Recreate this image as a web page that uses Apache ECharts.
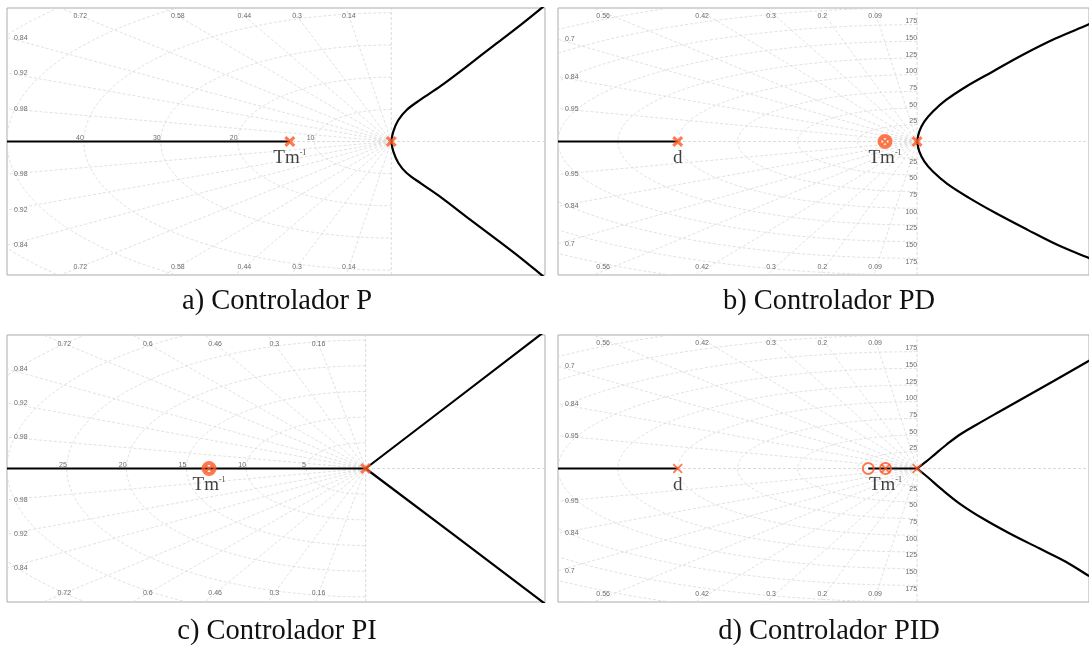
<!DOCTYPE html>
<html>
<head>
<meta charset="utf-8">
<title>Lugar de las raices</title>
<script src="https://cdn.jsdelivr.net/npm/echarts@6.0.0/dist/echarts.min.js"></script>
<style>
  html, body { margin: 0; padding: 0; background: #fff; }
  #main { width: 1089px; height: 648px; }
</style>
</head>
<body>
<div id="main"></div>
<script>
// s-plane grid ticks (damping ratio lines, natural frequency circles)
const zetaA = [0.14, 0.3, 0.44, 0.58, 0.72, 0.84, 0.92, 0.98]
const zetaB = [0.09, 0.2, 0.3, 0.42, 0.56, 0.7, 0.84, 0.95]
const zetaC = [0.16, 0.3, 0.46, 0.6, 0.72, 0.84, 0.92, 0.98]
const zetaD = [0.09, 0.2, 0.3, 0.42, 0.56, 0.7, 0.84, 0.95]
const wnA = [10, 20, 30, 40, 50, 60]
const wnB = [25, 50, 75, 100, 125, 150, 175, 200, 225, 250]
const wnC = [5, 10, 15, 20, 25, 30, 35, 40]
const wnD = [25, 50, 75, 100, 125, 150, 175, 200, 225, 250]
const wnRealLabelsA = ['10', '20', '30', '40']
const wnRealLabelsC = ['5', '10', '15', '20', '25']
const wnImagLabelsB = ['25', '50', '75', '100', '125', '150', '175']
const wnImagLabelsD = ['25', '50', '75', '100', '125', '150', '175']

// root locus branches, [real, imag]
const realA = [[-50, 0], [-13.2, 0]]
const upperA = [[0, 0], [0.25, 3.0], [0.9, 6.6], [2.0, 9.8], [3.8, 13.0], [6.4, 17.2], [9.8, 23.3], [13.7, 30.5], [16.8, 36.2], [19.3, 41.0], [20.3, 43]]
const lowerA = [[0, 0], [0.25, -3.0], [0.9, -6.6], [2.0, -9.8], [3.9, -13.1], [6.6, -17.6], [10.0, -23.8], [13.9, -30.8], [16.9, -36.3], [19.3, -41.0], [20.3, -43]]

const realB = [[-150, 0], [-100, 0]]
const upperB = [[0, 0], [0.9, 14.7], [3.0, 29.7], [6.5, 44.6], [12.1, 62.2], [20.4, 82.1], [31.5, 104.6], [44.0, 129.6], [58.0, 154.6], [71.1, 174.5], [72.5, 177]]
const lowerB = [[0, 0], [0.9, -14.7], [3.0, -29.7], [6.6, -45.0], [12.6, -63.5], [21.5, -84.0], [33.0, -107.5], [46.0, -132.0], [59.0, -155.5], [71.1, -173.5], [72.5, -176]]

const realC = [[-30, 0], [0, 0]]
const upperC = [[0, 0], [7.3, 13.0], [15.2, 27.1]]
const lowerC = [[0, 0], [7.3, -12.8], [15.2, -26.7]]

const realD1 = [[-150, 0], [-100, 0]]
const realD2 = [[-20.4, 0], [0, 0]]
const upperD = [[0, 0], [3.75, 10.2], [7.9, 22.8], [12.1, 35.2], [17.6, 50.2], [24.6, 65.2], [34.3, 85.1], [45.4, 107.6], [56.5, 130], [71.1, 160], [72.5, 163]]
const lowerD = [[0, 0], [4.6, -13.5], [10.2, -31.0], [17.6, -52.1], [27.3, -74.6], [38.5, -97], [51, -119.6], [62.1, -139.6], [71.1, -159.5], [72.5, -162]]

// poles (x), zeros (o) and cancelled pole-zero pairs
const polesA = [[-13.2, 0], [0, 0]]
const polesB = [[-100, 0], [0, 0]]
const pairsB = [[-13.4, 0]]
const polesC = [[0, 0]]
const pairsC = [[-13.1, 0]]
const polesD = [[-100, 0], [0, 0]]
const zerosD = [[-20.4, 0]]
const pairsD = [[-13.2, 0]]

// names written under the roots
const tagsA = [[-13.2, 'tm']]
const tagsB = [[-100, 'd'], [-13.4, 'tm']]
const tagsC = [[-13.1, 'tm']]
const tagsD = [[-100, 'd'], [-13.2, 'tm']]

const captions = ['a) Controlador P', 'b) Controlador PD', 'c) Controlador PI', 'd) Controlador PID']

const ORANGE = '#ff5722'
const CROSS_BOLD = 'path://M0,2L2,0L5,3L8,0L10,2L7,5L10,8L8,10L5,7L2,10L0,8L3,5Z'
const CROSS_THIN = 'path://M0,1.3L1.3,0L5,3.7L8.7,0L10,1.3L6.3,5L10,8.7L8.7,10L5,6.3L1.3,10L0,8.7L3.7,5Z'
const gridStyle = { color: '#d9d9d9', width: 0.8, type: [3, 2] }
const axisStyle = { color: '#d2d2d2', width: 0.8, type: [3, 2] }

// zetaY: where the damping label sits on its line, textY: where its text is drawn
const panels = [
    { grid: { left: 7, top: 8, width: 538, height: 267 }, x: [-50, 20], y: [-41.5, 41.5],
      zeta: zetaA, wn: wnA, zetaY: 39, textY: 39, wnReal: wnRealLabelsA, wnImag: [],
      lines: [realA], curves: [upperA, lowerA], poles: polesA, bold: true, zeros: [], pairs: [], tags: tagsA },
    { grid: { left: 558, top: 8, width: 532, height: 267 }, x: [-150, 71.8], y: [-200, 200],
      zeta: zetaB, wn: wnB, zetaY: 194, textY: 188.5, wnReal: [], wnImag: wnImagLabelsB,
      lines: [realB], curves: [upperB, lowerB], poles: polesB, bold: true, zeros: [], pairs: pairsB, tags: tagsB },
    { grid: { left: 7, top: 335, width: 538, height: 267 }, x: [-30, 15], y: [-26, 26],
      zeta: zetaC, wn: wnC, zetaY: 24.3, textY: 24.3, wnReal: wnRealLabelsC, wnImag: [],
      lines: [realC, upperC, lowerC], curves: [], poles: polesC, bold: true, zeros: [], pairs: pairsC, tags: tagsC },
    { grid: { left: 558, top: 335, width: 532, height: 267 }, x: [-150, 71.8], y: [-200, 200],
      zeta: zetaD, wn: wnD, zetaY: 194, textY: 188.5, wnReal: [], wnImag: wnImagLabelsD,
      lines: [realD1, realD2], curves: [upperD, lowerD], poles: polesD, bold: false, zeros: zerosD, pairs: pairsD, tags: tagsD }
]

function line(idx, data, style, z, smooth) {
    return {
        type: 'line', xAxisIndex: idx, yAxisIndex: idx, data: data, smooth: smooth || false,
        symbol: 'none', silent: true, clip: true, lineStyle: style, z: z
    }
}

function sgrid(idx, p) {
    const out = []
    p.zeta.forEach(z => {
        const s = Math.sqrt(1 - z * z)
        out.push(line(idx, [[0, 0], [-1000 * z, 1000 * s]], gridStyle, 1))
        out.push(line(idx, [[0, 0], [-1000 * z, -1000 * s]], gridStyle, 1))
    })
    p.wn.forEach(w => {
        const pts = []
        for (let k = 0; k <= 120; k++) {
            const a = Math.PI / 2 + Math.PI * k / 120
            pts.push([w * Math.cos(a), w * Math.sin(a)])
        }
        out.push(line(idx, pts, gridStyle, 1))
    })
    out.push(line(idx, [[p.x[0], 0], [p.x[1], 0]], axisStyle, 1))
    out.push(line(idx, [[0, p.y[0]], [0, p.y[1]]], axisStyle, 1))
    return out
}

function sgridLabels(idx, p) {
    const items = []
    p.zeta.forEach(z => {
        const t = Math.sqrt(1 - z * z) / z
        const xTop = -p.zetaY / t
        const txt = String(z)
        if (xTop > p.x[0]) {
            items.push({ value: [xTop, p.textY], label: { formatter: txt, position: 'inside' } })
            items.push({ value: [xTop, -p.textY], label: { formatter: txt, position: 'inside' } })
        } else {
            const yl = -p.x[0] * t
            items.push({ value: [p.x[0], yl], label: { formatter: txt, position: 'right', distance: 7 } })
            items.push({ value: [p.x[0], -yl], label: { formatter: txt, position: 'right', distance: 7 } })
        }
    })
    p.wnReal.forEach(w => {
        items.push({ value: [-Number(w), 0], label: { formatter: w, position: 'insideBottomRight' } })
    })
    p.wnImag.forEach(w => {
        items.push({ value: [0, Number(w)], label: { formatter: w, position: 'insideBottomRight' } })
        items.push({ value: [0, -Number(w)], label: { formatter: w, position: 'insideTopRight' } })
    })
    return {
        type: 'scatter', xAxisIndex: idx, yAxisIndex: idx, symbolSize: 0.01, silent: true, z: 2,
        itemStyle: { color: 'rgba(0,0,0,0)' },
        label: { show: true, distance: 0, color: '#444', fontSize: 7, fontFamily: 'Liberation Sans' },
        labelLayout: { hideOverlap: false },
        data: items
    }
}

function ringSeries(idx, data, ring) {
    return {
        type: 'scatter', xAxisIndex: idx, yAxisIndex: idx, data: data, silent: true, z: 4,
        symbol: 'circle', symbolSize: ring.size,
        itemStyle: { color: 'rgba(0,0,0,0)', borderColor: ORANGE, borderWidth: ring.width }
    }
}

function roots(idx, p) {
    const out = []
    const cross = p.bold ? CROSS_BOLD : CROSS_THIN
    const ring = p.bold ? { size: 11, width: 4 } : { size: 11, width: 2 }
    if (p.pairs.length) {
        out.push(ringSeries(idx, p.pairs, ring))
        out.push({
            type: 'scatter', xAxisIndex: idx, yAxisIndex: idx, data: p.pairs, silent: true, z: 4,
            symbol: cross, symbolSize: p.bold ? 8 : 10, itemStyle: { color: ORANGE }
        })
    }
    if (p.zeros.length) out.push(ringSeries(idx, p.zeros, ring))
    out.push({
        type: 'scatter', xAxisIndex: idx, yAxisIndex: idx, data: p.poles, silent: true, z: 4,
        symbol: cross, symbolSize: p.bold ? 11 : 10, itemStyle: { color: ORANGE }
    })
    return out
}

function tags(idx, p) {
    return {
        type: 'scatter', xAxisIndex: idx, yAxisIndex: idx, symbolSize: 12, silent: true, z: 6,
        itemStyle: { color: 'rgba(0,0,0,0)' },
        label: {
            show: true, position: 'bottom', distance: 1,
            formatter: d => d.value[2] === 'tm' ? '{t|Tm}{s|-1}' : '{t|d}',
            rich: {
                t: { fontFamily: 'Liberation Serif', fontSize: 19, color: '#111' },
                s: { fontFamily: 'Liberation Serif', fontSize: 8, color: '#111', verticalAlign: 'top' }
            }
        },
        data: p.tags.map(t => [t[0], 0, t[1]])
    }
}

const series = []
panels.forEach((p, i) => {
    sgrid(i, p).forEach(s => series.push(s))
    series.push(sgridLabels(i, p))
    p.lines.forEach(b => series.push(line(i, b, { color: '#000', width: 2.2 }, 3)))
    p.curves.forEach(b => series.push(line(i, b, { color: '#000', width: 2.2 }, 3, 0.35)))
    roots(i, p).forEach(s => series.push(s))
    series.push(tags(i, p))
})

const chart = echarts.init(document.getElementById('main'))
chart.setOption({
    animation: false,
    backgroundColor: '#fff',
    grid: panels.map(p => Object.assign({ show: true, borderColor: '#ababab', borderWidth: 1 }, p.grid)),
    xAxis: panels.map((p, i) => ({ type: 'value', gridIndex: i, min: p.x[0], max: p.x[1], show: false })),
    yAxis: panels.map((p, i) => ({ type: 'value', gridIndex: i, min: p.y[0], max: p.y[1], show: false })),
    graphic: captions.map((c, i) => ({
        type: 'text',
        x: i % 2 === 0 ? 277 : 829,
        y: i < 2 ? 302 : 632,
        style: {
            text: c, fill: '#111', fontSize: 28.5, fontFamily: 'Liberation Serif',
            textAlign: 'center', textVerticalAlign: 'middle', align: 'center', verticalAlign: 'middle'
        }
    })),
    series: series
})
</script>
</body>
</html>
